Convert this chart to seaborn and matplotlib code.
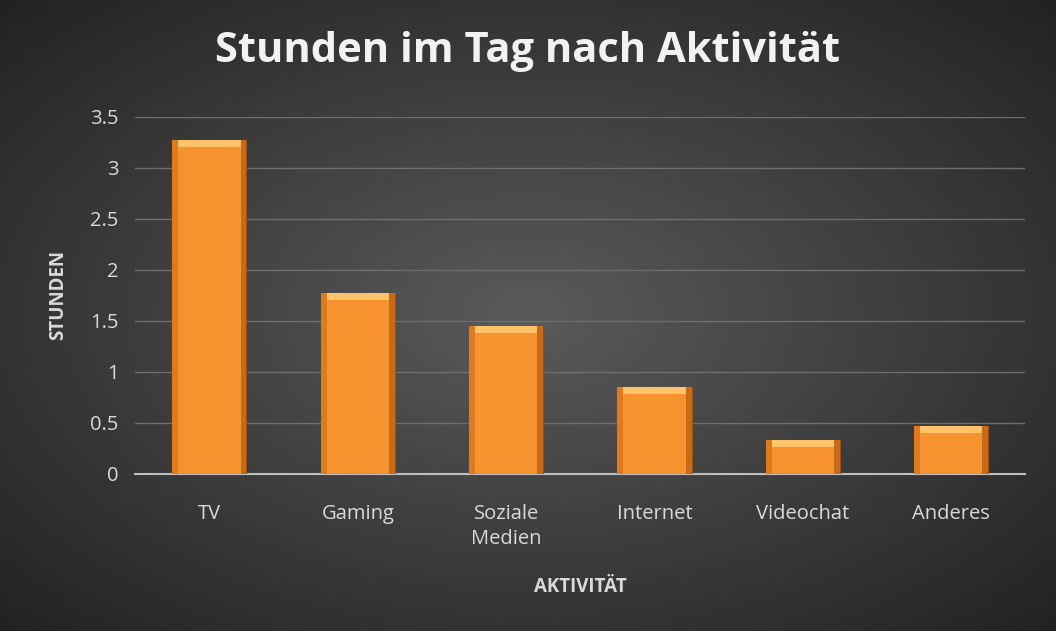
import matplotlib
matplotlib.use('Agg')
import matplotlib.pyplot as plt
import seaborn as sns
import numpy as np
import pandas as pd

# chart data
activities = ['TV', 'Gaming', 'Soziale\nMedien', 'Internet', 'Videochat', 'Anderes']
hours = [3.27, 1.77, 1.45, 0.85, 0.33, 0.47]
yticks = [0, 0.5, 1, 1.5, 2, 2.5, 3, 3.5]
ytick_labels = ['0', '0.5', '1', '1.5', '2', '2.5', '3', '3.5']

sns.set_style('dark')
plt.rcParams['font.family'] = ['Open Sans', 'DejaVu Sans']

fig = plt.figure(figsize=(10.56, 6.31), dpi=100)

# radial dark background
bg = fig.add_axes([0, 0, 1, 1], zorder=-10)
yy, xx = np.mgrid[-1:1:300j, -1:1:500j]
r = np.sqrt(xx**2 + yy**2) / np.sqrt(2)
bg.imshow(r, cmap=matplotlib.colors.LinearSegmentedColormap.from_list('bg', ['#5a5a5a', '#222222']),
          aspect='auto', extent=[0, 1, 0, 1])
bg.axis('off')

ax = fig.add_axes([0.128, 0.249, 0.843, 0.566])
ax.set_facecolor('none')
df = pd.DataFrame({'Aktivität': activities, 'Stunden': hours})
sns.barplot(data=df, x='Aktivität', y='Stunden', ax=ax, color='#F7932F',
            width=0.5, saturation=1, edgecolor='#9a4f10', linewidth=0.8, zorder=3)

# bevel highlight on top of each bar
for p in ax.patches:
    x, w, h = p.get_x(), p.get_width(), p.get_height()
    ax.add_patch(matplotlib.patches.Rectangle((x, h - 0.07), w, 0.07, color='#FFC46A', zorder=4, lw=0))
    ax.add_patch(matplotlib.patches.Rectangle((x, 0), w * 0.08, h, color='#E07A1E', zorder=4, lw=0))
    ax.add_patch(matplotlib.patches.Rectangle((x + w * 0.92, 0), w * 0.08, h, color='#C86A17', zorder=4, lw=0))

ax.set_ylim(0, 3.5)
ax.set_xlim(-0.5, 5.5)
ax.set_yticks(yticks)
ax.set_yticklabels(ytick_labels)
ax.yaxis.grid(True, color='#6e6e6e', lw=1)
ax.xaxis.grid(False)
for s in ['top', 'right', 'left']:
    ax.spines[s].set_visible(False)
ax.spines['bottom'].set_visible(True)
ax.spines['bottom'].set_color('#BFBFBF')
ax.spines['bottom'].set_linewidth(1.5)
ax.tick_params(axis='y', colors='#D9D9D9', labelsize=14.5, length=0, pad=12)
ax.tick_params(axis='x', colors='#D9D9D9', labelsize=14.5, length=0, pad=22)
for t in ax.get_xticklabels():
    t.set_linespacing(1.3)

ax.set_xlabel('AKTIVITÄT', color='#D9D9D9', fontsize=13.5, fontweight='bold', labelpad=20)
ax.set_ylabel('STUNDEN', color='#D9D9D9', fontsize=13.5, fontweight='bold', labelpad=16)

fig.text(0.5, 0.918, 'Stunden im Tag nach Aktivität', ha='center', va='center',
         color='#F2F2F2', fontsize=30, fontweight='bold')

fig.savefig('out.png', dpi=100)
